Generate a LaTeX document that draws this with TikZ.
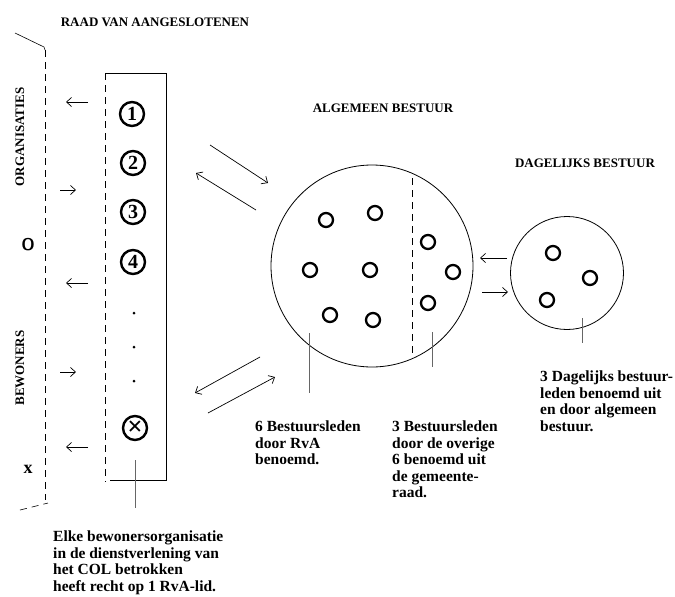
\documentclass[tikz,border=0pt]{standalone}
\usepackage{fontspec}
\setmainfont{Liberation Serif}
\usetikzlibrary{arrows.meta}
\begin{document}
\begin{tikzpicture}[x=1pt,y=1pt]
                \tikzstyle{every node}+=[inner sep=0pt]
                \tikzstyle{kop}=[font=\bfseries\fontsize{13}{13}\selectfont]
                \tikzstyle{uitleg}=[anchor=north west, align=left, font=\bfseries\fontsize{15.5}{16.5}\selectfont]
                \tikzstyle{org}=[draw, circle, line width=2.4pt, minimum size=24pt, font=\bfseries\fontsize{20}{20}\selectfont]
                \tikzstyle{lid}=[draw, circle, line width=2.3pt, minimum size=14pt]
                \tikzstyle{stip}=[fill, circle, minimum size=3pt]
                \tikzstyle{pijl}=[-{Straight Barb[length=5pt,width=9pt]}, line width=0.7pt]
                \tikzstyle{streep}=[dash pattern=on 7pt off 5pt, line width=0.6pt]
                \tikzstyle{dun}=[black!60, line width=0.6pt]
                \useasboundingbox (0,0) rectangle (675,-597);
                % raad van aangeslotenen
                \node [kop] (rva) at (155,-22) {RAAD VAN AANGESLOTENEN};
                \node [kop, rotate=90] (orgs) at (20,-137) {ORGANISATIES};
                \node [kop, rotate=90] (bew) at (20,-368) {BEWONERS};
                \node [font=\bfseries\sffamily\fontsize{17}{17}\selectfont] (o) at (28,-245) {O};
                \node [font=\bfseries\fontsize{18}{18}\selectfont] (x) at (28,-469) {x};
                \draw [line width=0.6pt] (15,-33) -- (44,-47) -- (45,-50);
                \draw [streep] (45,-50) -- (45,-500);
                \draw [streep] (20,-510) -- (48,-503);
                \draw [streep] (105,-73) -- (105,-482);
                \draw [line width=0.8pt] (105,-73) -- (166,-73) -- (166,-480) -- (110,-480);
                \node [org] (r1) at (132,-114) {1};
                \node [org] (r2) at (133,-163) {2};
                \node [org] (r3) at (133,-212) {3};
                \node [org] (r4) at (133,-262) {4};
                \node [stip] (s1) at (134,-313) {};
                \node [stip] (s2) at (134,-347) {};
                \node [stip] (s3) at (134,-381) {};
                \node [org, font=\bfseries\fontsize{27}{27}\selectfont] (rx) at (135,-428) {×};
                \foreach \y [count=\i] in {102,283,447} {
                    \coordinate (uit\i) at (88,-\y);
                    \coordinate (in\i) at (66,-\y);
                    \draw [pijl] (uit\i) -- (in\i);
                }
                \foreach \y [count=\i] in {190,372} {
                    \coordinate (van\i) at (60,-\y);
                    \coordinate (naar\i) at (76,-\y);
                    \draw [pijl] (van\i) -- (naar\i);
                }
                \coordinate (tik) at (135,-460);
                \coordinate (tikb) at (135,-508);
                \draw [dun] (tik) -- (tikb);
                % algemeen bestuur
                \node [kop] (abk) at (383,-108) {ALGEMEEN BESTUUR};
                \node [draw, circle, line width=0.8pt, minimum size=202pt] (ab) at (372,-266) {};
                \foreach \p [count=\i] in {(326,-220),(375,-213),(310,-270),(370,-270),(330,-315),(373,-320),(428,-242),(453,-272),(428,-303)}
                    \node [lid] (a\i) at \p {};
                \draw [streep] (412,-178) -- (412,-357);
                \coordinate (a1b) at (210,-145);
                \coordinate (a1e) at (268,-183);
                \coordinate (a2b) at (256,-210);
                \coordinate (a2e) at (196,-173);
                \coordinate (a3b) at (260,-357);
                \coordinate (a3e) at (195,-393);
                \coordinate (a4b) at (208,-413);
                \coordinate (a4e) at (275,-377);
                \draw [pijl] (a1b) -- (a1e);
                \draw [pijl] (a2b) -- (a2e);
                \draw [pijl] (a3b) -- (a3e);
                \draw [pijl] (a4b) -- (a4e);
                \draw [dun] (309,-333) -- (309,-393);
                \draw [dun] (432,-332) -- (432,-367);
                % dagelijks bestuur
                \node [kop] (dbk) at (585,-163) {DAGELIJKS BESTUUR};
                \node [draw, circle, line width=0.8pt, minimum size=113pt] (db) at (567,-273) {};
                \node [lid] (d1) at (553,-253) {};
                \node [lid] (d2) at (590,-278) {};
                \node [lid] (d3) at (547,-300) {};
                \coordinate (t1b) at (507,-258);
                \coordinate (t1e) at (480,-258);
                \coordinate (t2b) at (482,-292);
                \coordinate (t2e) at (508,-292);
                \draw [pijl] (t1b) -- (t1e);
                \draw [pijl] (t2b) -- (t2e);
                \draw [dun] (582,-318) -- (582,-343);
                % toelichting
                \node [uitleg] (t6) at (255,-421) {6 Bestuursleden\\door RvA\\benoemd.};
                \node [uitleg] (t3) at (392,-421) {3 Bestuursleden\\door de overige\\6 benoemd uit\\de gemeente-\\raad.};
                \node [uitleg] (tdb) at (540,-371) {3 Dagelijks bestuur-\\leden benoemd uit\\en door algemeen\\bestuur.};
                \node [uitleg] (telk) at (53,-531) {Elke bewonersorganisatie\\in de dienstverlening van\\het COL betrokken\\heeft recht op 1 RvA-lid.};
            \end{tikzpicture}
\end{document}
